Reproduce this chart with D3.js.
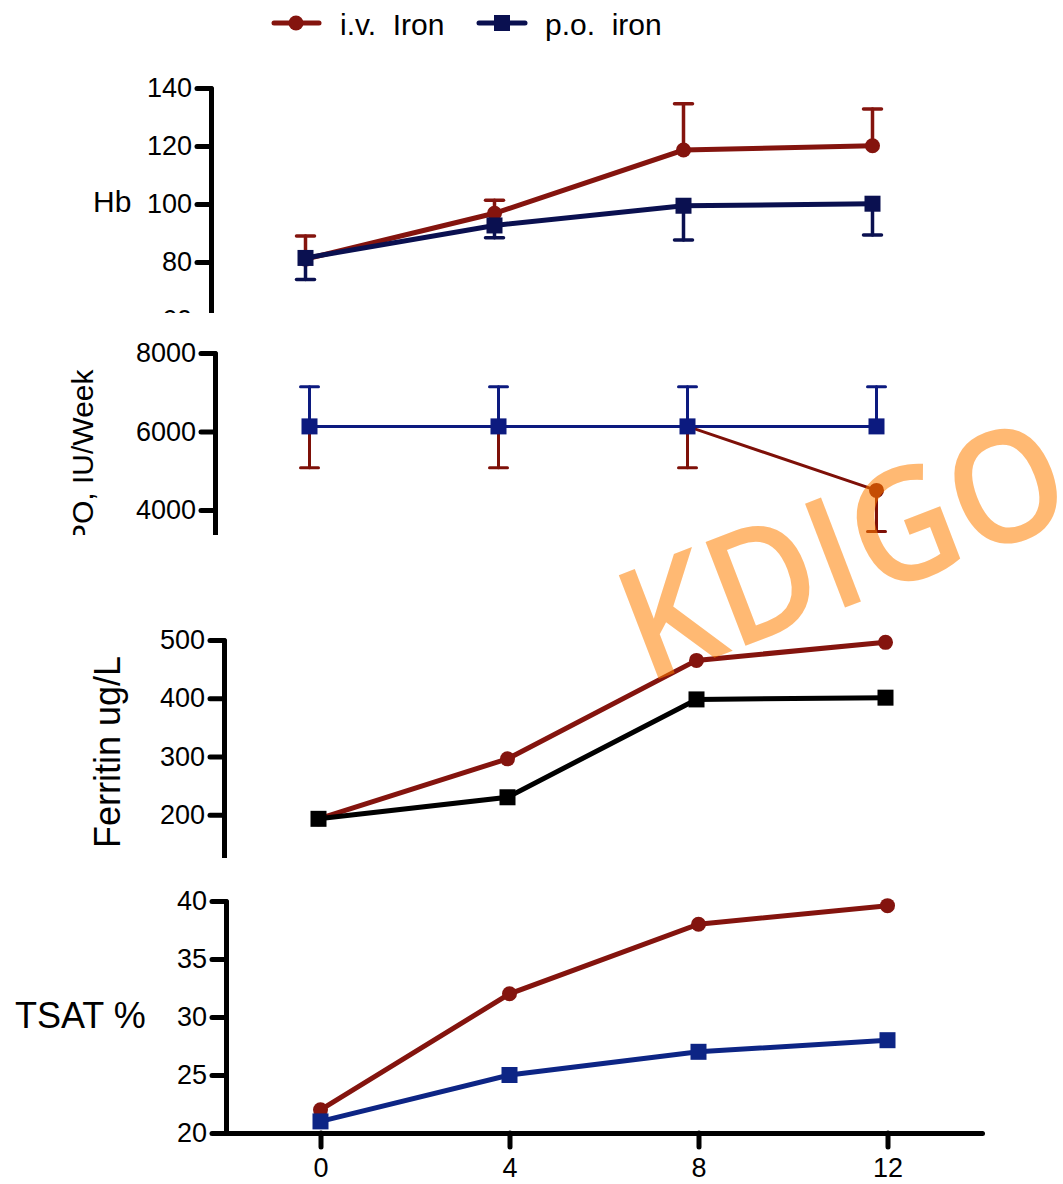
<!DOCTYPE html>
<style>
body { margin: 0; background: #fff; }
svg text { font-family: "Liberation Sans", Arial, sans-serif; fill: #000; }
.axis path, .axis line { stroke: #000; stroke-width: 5; stroke-linecap: round; }
.axis text { font-size: 27px; }
</style>
<svg width="1063" height="1184"></svg>
<script src="https://d3js.org/d3.v7.min.js"></script>
<script>
// weeks of follow-up
var weeks = [0, 4, 8, 12];

// Hb (g/L), mean and SD
var hbIv = [81, 96.8, 118.6, 120.1];
var hbIvSd = [8, 4.5, 16, 12.7];
var hbPo = [81.4, 92.6, 99.4, 100.1];
var hbPoSd = [7.4, 4.2, 11.8, 10.8];

// EPO dose, IU/week
var epoIv = [6130, 6130, 6130, 4500];
var epoIvSd = [1055, 1055, 1055, 1045];
var epoPo = [6130, 6130, 6130, 6130];
var epoPoSd = [1010, 1010, 1010, 1010];

// ferritin ug/L
var ferIv = [193, 296, 465, 496];
var ferPo = [193, 230, 398, 401];

// TSAT %
var tsatIv = [22, 32, 38, 39.6];
var tsatPo = [21, 25, 27, 28];

var hbTicks = [60, 80, 100, 120, 140];
var epoTicks = [2000, 4000, 6000, 8000];
var ferTicks = [100, 200, 300, 400, 500];
var tsatTicks = [20, 25, 30, 35, 40];
var xTicks = [0, 4, 8, 12];

var red = "#84140e";

var svg = d3.select("svg");

var panels = [
  { axisX: 211, dom: [60, 140], rng: [320, 88], ticks: hbTicks, clip: [60, 313],
    series: [
      { v: hbIv, sd: hbIvSd, dir: 1, color: red, mark: "circle", w: 5, ew: 3.5 },
      { v: hbPo, sd: hbPoSd, dir: -1, color: "#0a1050", mark: "square", w: 5, ew: 3.5 }
    ] },
  { axisX: 215, dom: [2000, 8000], rng: [588.5, 353], ticks: epoTicks, clip: [335, 535],
    series: [
      { v: epoIv, sd: epoIvSd, dir: -1, color: "#7e1008", mark: "circle", w: 3, ew: 3 },
      { v: epoPo, sd: epoPoSd, dir: 1, color: "#0c1a7f", mark: "square", w: 3, ew: 3 }
    ] },
  { axisX: 224, dom: [100, 500], rng: [873, 640], ticks: ferTicks, clip: [610, 858],
    series: [
      { v: ferIv, color: red, mark: "circle", w: 5 },
      { v: ferPo, color: "#000", mark: "square", w: 5 }
    ] },
  { axisX: 226, dom: [20, 40], rng: [1133, 901], ticks: tsatTicks, clip: [870, 1184], xaxis: true,
    series: [
      { v: tsatIv, color: red, mark: "circle", w: 5 },
      { v: tsatPo, color: "#0d2585", mark: "square", w: 5 }
    ] }
];

panels.forEach(function(p, i) {
  var x = d3.scaleLinear().domain([-2, 14]).range([p.axisX, p.axisX + 756]);
  var y = d3.scaleLinear().domain(p.dom).range(p.rng);

  svg.append("clipPath").attr("id", "clip" + i)
    .append("rect").attr("x", 0).attr("y", p.clip[0])
    .attr("width", 1063).attr("height", p.clip[1] - p.clip[0]);

  var g = svg.append("g").attr("clip-path", "url(#clip" + i + ")");

  g.append("g").attr("class", "axis")
    .attr("transform", "translate(" + p.axisX + ",0)")
    .call(d3.axisLeft(y).tickValues(p.ticks).tickSize(14).tickSizeOuter(0).tickPadding(5).tickFormat(d3.format("d")))
    .call(function(a) { a.selectAll("text").attr("font-family", null).attr("font-size", null); });

  if (p.xaxis) {
    g.append("g").attr("class", "axis")
      .attr("transform", "translate(0," + p.rng[0] + ")")
      .call(d3.axisBottom(x).tickValues(xTicks).tickSize(14).tickSizeOuter(0).tickPadding(11))
      .call(function(a) { a.selectAll("text").attr("font-family", null).attr("font-size", null); });
  }

  var line = d3.line().x(function(d, k) { return x(weeks[k]); }).y(function(d) { return y(d); });

  p.series.forEach(function(s) {
    var sg = g.append("g");
    if (s.sd) {
      var eb = sg.append("g").attr("stroke", s.color).attr("stroke-width", s.ew).attr("stroke-linecap", "round");
      s.v.forEach(function(m, k) {
        var yEnd = y(m + s.dir * s.sd[k]);
        eb.append("line").attr("x1", x(weeks[k])).attr("x2", x(weeks[k]))
          .attr("y1", y(m)).attr("y2", yEnd);
        eb.append("line").attr("x1", x(weeks[k]) - 9).attr("x2", x(weeks[k]) + 9)
          .attr("y1", yEnd).attr("y2", yEnd);
      });
    }
    sg.append("path").datum(s.v).attr("d", line)
      .attr("fill", "none").attr("stroke", s.color).attr("stroke-width", s.w);
    s.v.forEach(function(m, k) {
      if (s.mark === "circle") {
        sg.append("circle").attr("cx", x(weeks[k])).attr("cy", y(m)).attr("r", 7.5).attr("fill", s.color);
      } else {
        sg.append("rect").attr("x", x(weeks[k]) - 8).attr("y", y(m) - 8)
          .attr("width", 16).attr("height", 16).attr("fill", s.color);
      }
    });
  });
});

// axis titles
svg.append("text").attr("x", 93).attr("y", 212).attr("font-size", 30).text("Hb");

svg.append("g").attr("clip-path", "url(#clip1)")
  .append("text").attr("transform", "translate(93,564) rotate(-90)")
  .attr("font-size", 30).text("EPO, IU/Week");

svg.append("text").attr("transform", "translate(120,752) rotate(-90)")
  .attr("text-anchor", "middle").attr("font-size", 36).text("Ferritin ug/L");

svg.append("text").attr("x", 15).attr("y", 1028).attr("font-size", 36).text("TSAT %");

// legend
var leg = svg.append("g");
leg.append("line").attr("x1", 274).attr("x2", 319).attr("y1", 23).attr("y2", 23)
  .attr("stroke", red).attr("stroke-width", 5).attr("stroke-linecap", "round");
leg.append("circle").attr("cx", 296).attr("cy", 23).attr("r", 7.5).attr("fill", red);
leg.append("text").attr("x", 340).attr("y", 35).attr("font-size", 30).style("white-space", "pre").text("i.v.  Iron");
leg.append("line").attr("x1", 479).attr("x2", 525).attr("y1", 23).attr("y2", 23)
  .attr("stroke", "#0a1050").attr("stroke-width", 5).attr("stroke-linecap", "round");
leg.append("rect").attr("x", 494).attr("y", 15).attr("width", 16).attr("height", 16).attr("fill", "#0a1050");
leg.append("text").attr("x", 545).attr("y", 35).attr("font-size", 30).style("white-space", "pre").text("p.o.  iron");

// watermark
svg.append("text")
  .attr("transform", "translate(646,684) rotate(-21)")
  .style("font-family", "'Open Sans', sans-serif")
  .style("font-weight", 600)
  .attr("font-size", 156)
  .attr("textLength", 464)
  .attr("lengthAdjust", "spacingAndGlyphs")
  .style("fill", "#ff7f00")
  .attr("fill-opacity", 0.55)
  .text("KDIGO");
</script>
